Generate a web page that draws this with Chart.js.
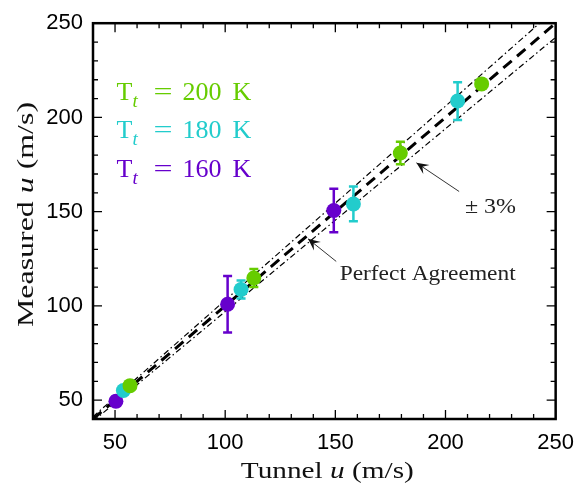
<!DOCTYPE html>
<html>
<head>
<meta charset="utf-8">
<script src="https://cdn.jsdelivr.net/npm/chart.js@4/dist/chart.umd.min.js"></script>
<style>
  html, body { margin: 0; padding: 0; background: #fff; }
  canvas { display: block; }
</style>
</head>
<body>
<canvas id="chart" width="585" height="484"></canvas>
<script>
// values (tunnel u vs measured u, m/s)
const tunnel200   = [56.8, 113.0, 179.5, 216.4];
const measured200 = [57.7, 114.8, 181.1, 217.8];
const err200      = [1.5, 4.8, 6.0, 1.5];

const tunnel180   = [53.8, 107.2, 158.2, 205.5];
const measured180 = [55.1, 108.7, 154.1, 208.7];
const err180      = [1.5, 4.8, 9.2, 10.0];

const tunnel160   = [50.4, 101.1, 149.3];
const measured160 = [49.4, 100.9, 150.6];
const err160      = [2.5, 15.0, 11.5];

const lineX     = [40, 250];
const perfectY  = [40, 250];
const plus3Y    = [41.2, 257.5];
const minus3Y   = [38.8, 242.5];

const legendLabels = ['200 K', '180 K', '160 K'];
const legendColors = ['#66cc00', '#22cccc', '#6600cc'];

const axisMin = 40, axisMax = 250, minorStep = 10, majorStep = 50;

// annotation text + arrows (data coordinates)
const notes = [
  { text: 'Perfect Agreement', x: 191.9, y: 117.4, w: 176, tail: [150.4, 123.6], head: [137.6, 135.6] },
  { text: '\u00b1 3%',          x: 220.4, y: 152.9, w: 51,  tail: [206.2, 160.7], head: [186.8, 175.9] },
];

const SERIF = '"Liberation Serif", "Times New Roman", serif';
const SANS = '"Liberation Sans", Arial, sans-serif';

function pts(xs, ys){ return xs.map((x, i) => ({ x, y: ys[i] })); }

function scatterSet(label, xs, ys, errs, color){
  return {
    label, data: pts(xs, ys), errors: errs,
    backgroundColor: color, borderColor: color,
    pointRadius: 7.5, pointHoverRadius: 7.5, borderWidth: 0, showLine: false,
  };
}

function refLine(label, ys, width, dash){
  return {
    label, data: pts(lineX, ys), showLine: true, pointRadius: 0,
    borderColor: '#000', borderWidth: width, borderDash: dash, fill: false,
  };
}

// draw a run of differently-styled text pieces, squeezed/stretched to a width
function drawRuns(ctx, runs, cx, cy, targetW){
  let w = 0;
  runs.forEach(r => { ctx.font = r.f; w += ctx.measureText(r.t).width; });
  ctx.save();
  ctx.translate(cx, cy);
  ctx.scale(targetW / w, 1);
  let x = -w / 2;
  ctx.textBaseline = 'alphabetic';
  ctx.textAlign = 'left';
  runs.forEach(r => { ctx.font = r.f; ctx.fillText(r.t, x, 0); x += ctx.measureText(r.t).width; });
  ctx.restore();
}

const errorBars = {
  id: 'errorBars',
  beforeDatasetDraw(chart, args){
    const ds = chart.data.datasets[args.index];
    if (!ds.errors) return;
    const ctx = chart.ctx, xs = chart.scales.x, ys = chart.scales.y;
    ctx.save();
    ctx.strokeStyle = ds.borderColor;
    ctx.lineWidth = 2.5;
    ds.data.forEach((p, i) => {
      const px = xs.getPixelForValue(p.x);
      const t = ys.getPixelForValue(p.y + ds.errors[i]);
      const b = ys.getPixelForValue(p.y - ds.errors[i]);
      ctx.beginPath();
      ctx.moveTo(px, t); ctx.lineTo(px, b);
      ctx.moveTo(px - 4.5, t); ctx.lineTo(px + 4.5, t);
      ctx.moveTo(px - 4.5, b); ctx.lineTo(px + 4.5, b);
      ctx.stroke();
    });
    ctx.restore();
  }
};

const frame = {
  id: 'frame',
  afterDraw(chart){
    const ctx = chart.ctx, a = chart.chartArea;
    const xs = chart.scales.x, ys = chart.scales.y;
    ctx.save();
    ctx.strokeStyle = '#000';
    ctx.lineWidth = 1.3;
    ctx.beginPath();
    xs.ticks.forEach(t => {
      const px = xs.getPixelForValue(t.value);
      const len = t.value % majorStep === 0 ? 9 : 5;
      ctx.moveTo(px, a.bottom); ctx.lineTo(px, a.bottom - len);
      ctx.moveTo(px, a.top); ctx.lineTo(px, a.top + len);
    });
    ys.ticks.forEach(t => {
      const py = ys.getPixelForValue(t.value);
      const len = t.value % majorStep === 0 ? 9 : 5;
      ctx.moveTo(a.left, py); ctx.lineTo(a.left + len, py);
      ctx.moveTo(a.right, py); ctx.lineTo(a.right - len, py);
    });
    ctx.stroke();
    ctx.lineWidth = 2.5;
    ctx.strokeRect(a.left, a.top, a.right - a.left, a.bottom - a.top);

    // axis titles
    ctx.fillStyle = '#111';
    drawRuns(ctx, [
      { t: 'Tunnel ', f: '24px ' + SERIF },
      { t: 'u', f: 'italic 24px ' + SERIF },
      { t: ' (m/s)', f: '24px ' + SERIF },
    ], (a.left + a.right) / 2 + 3, 478, 173);
    ctx.save();
    ctx.translate(33, 214.5);
    ctx.rotate(-Math.PI / 2);
    drawRuns(ctx, [
      { t: 'Measured ', f: '24px ' + SERIF },
      { t: 'u', f: 'italic 24px ' + SERIF },
      { t: ' (m/s)', f: '24px ' + SERIF },
    ], 0, 0, 225);
    ctx.restore();

    // legend
    legendLabels.forEach((lab, i) => {
      const x0 = a.left + 23.5, y0 = 100 + i * 38.3;
      ctx.fillStyle = legendColors[i];
      ctx.textAlign = 'left';
      ctx.textBaseline = 'alphabetic';
      ctx.font = '26px ' + SERIF;
      ctx.fillText('T', x0, y0);
      ctx.font = 'italic 19px ' + SERIF;
      ctx.fillText('t', x0 + 16, y0 + 7);
      ctx.font = '26px ' + SERIF;
      ctx.save();
      ctx.translate(x0 + 37, y0);
      ctx.scale(1.3, 1);
      ctx.fillText('=', 0, 0);
      ctx.restore();
      ctx.fillText(lab.split(' ')[0], x0 + 66, y0);
      ctx.fillText(lab.split(' ')[1], x0 + 116, y0);
    });

    // annotations
    notes.forEach(n => {
      const tx = xs.getPixelForValue(n.tail[0]), ty = ys.getPixelForValue(n.tail[1]);
      const hx = xs.getPixelForValue(n.head[0]), hy = ys.getPixelForValue(n.head[1]);
      ctx.strokeStyle = '#333';
      ctx.fillStyle = '#111';
      ctx.lineWidth = 1;
      ctx.beginPath();
      ctx.moveTo(tx, ty); ctx.lineTo(hx, hy);
      ctx.stroke();
      const ang = Math.atan2(hy - ty, hx - tx);
      const L = 12, W = 5.5;
      ctx.save();
      ctx.translate(hx, hy);
      ctx.rotate(ang);
      ctx.beginPath();
      ctx.moveTo(0, 0);
      ctx.lineTo(-L, -W);
      ctx.lineTo(-L * 0.6, 0);
      ctx.lineTo(-L, W);
      ctx.closePath();
      ctx.fill();
      ctx.restore();
      ctx.fillStyle = '#222';
      drawRuns(ctx, [{ t: n.text, f: '22px ' + SERIF }],
        xs.getPixelForValue(n.x), ys.getPixelForValue(n.y) + 7, n.w);
    });
    ctx.restore();
  }
};

function axisCfg(fit){
  return {
    type: 'linear', min: axisMin, max: axisMax,
    grid: { display: false, drawTicks: false },
    border: { display: false },
    ticks: {
      stepSize: minorStep, autoSkip: false, maxRotation: 0,
      color: '#000', font: { family: SANS, size: 22 },
      callback: v => (v % majorStep === 0 ? String(v) : ''),
    },
    afterFit: fit,
  };
}

const xAxis = axisCfg(s => { s.height = 65; });
xAxis.ticks.padding = 11;
const yAxis = axisCfg(s => { s.width = 93; });
yAxis.ticks.padding = 10;

new Chart(document.getElementById('chart').getContext('2d'), {
  type: 'scatter',
  data: {
    datasets: [
      scatterSet('Tt = 200 K', tunnel200, measured200, err200, legendColors[0]),
      scatterSet('Tt = 180 K', tunnel180, measured180, err180, legendColors[1]),
      scatterSet('Tt = 160 K', tunnel160, measured160, err160, legendColors[2]),
      refLine('Perfect Agreement', perfectY, 3, [11, 7]),
      refLine('+3%', plus3Y, 1.2, [6, 3, 1.5, 3]),
      refLine('-3%', minus3Y, 1.2, [6, 3, 1.5, 3]),
    ],
  },
  options: {
    responsive: false,
    animation: false,
    layout: { padding: { top: 16, right: 22, left: 0, bottom: 0 } },
    plugins: { legend: { display: false }, tooltip: { enabled: false } },
    scales: { x: xAxis, y: yAxis },
  },
  plugins: [errorBars, frame],
});
</script>
</body>
</html>
